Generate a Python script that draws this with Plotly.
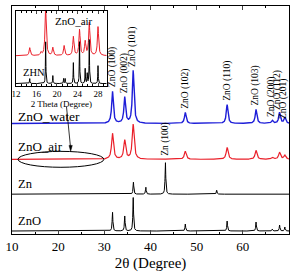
import numpy as np
import plotly.graph_objects as go

# ---------------- data ----------------
zno_pos = [31.77, 34.42, 36.25, 47.54, 56.60, 62.86, 66.38, 67.96, 69.10]
zno_hkl = ["ZnO (100)", "ZnO (002)", "ZnO (101)", "ZnO (102)", "ZnO (110)",
           "ZnO (103)", "ZnO (200)", "ZnO (112)", "ZnO (201)"]
water_int = [32, 26, 53, 11, 19, 14, 3, 11, 6]
air_int = [26, 19, 35, 8, 12, 9, 2, 7, 4]
zno_ref_int = [19, 15, 34, 7, 10, 9, 2, 6, 4]

zn_pos = [36.30, 38.99, 43.23, 54.34]
zn_int = [12, 7, 32, 4]

# inset (ZHN region)
zhn_pos = [14.7, 17.8, 19.2, 21.3, 21.6, 23.2, 24.4, 25.5, 25.9, 26.3, 28.0]
zhn_int = [5, 42, 8, 5, 5, 21, 42, 15, 10, 44, 18]
air_in_pos = [14.7, 16.9, 17.8, 19.2, 21.4, 23.2, 24.4, 25.5, 26.3, 28.0]
air_in_int = [8, 3, 50, 8, 10, 19, 26, 14, 33, 29]

main_ticks = [10, 20, 30, 40, 50, 60, 70]
inset_ticks = [12, 16, 20, 24, 28]

# ---------------- rendering helpers ----------------
BLUE = "#1e1ed8"
RED = "#ea1f29"
FONT = "Liberation Serif"

x_main = np.arange(10, 70.001, 0.02)
x_in = np.arange(12, 29.7, 0.02)


def profile(x, pos, inten, w):
    y = np.zeros_like(x)
    for p, h in zip(pos, inten):
        y += h / (1 + ((x - p) / w) ** 2)
    return y


off_water, off_air, off_zn, off_zno = 111, 75, 40, 3
off_zhn, off_air_in = 2, 30

fig = go.Figure()
fig.add_trace(go.Scatter(x=x_main, y=off_water + profile(x_main, zno_pos, water_int, 0.22),
                         mode="lines", line=dict(color=BLUE, width=1.4), showlegend=False))
fig.add_trace(go.Scatter(x=x_main, y=off_air + profile(x_main, zno_pos, air_int, 0.25),
                         mode="lines", line=dict(color=RED, width=1.2), showlegend=False))
fig.add_trace(go.Scatter(x=x_main, y=off_zn + profile(x_main, zn_pos, zn_int, 0.09),
                         mode="lines", line=dict(color="black", width=1), showlegend=False))
fig.add_trace(go.Scatter(x=x_main, y=off_zno + profile(x_main, zno_pos, zno_ref_int, 0.09),
                         mode="lines", line=dict(color="black", width=1), showlegend=False))

fig.add_trace(go.Scatter(x=x_in, y=off_air_in + profile(x_in, air_in_pos, air_in_int, 0.14),
                         mode="lines", line=dict(color=RED, width=1), showlegend=False,
                         xaxis="x2", yaxis="y2"))
fig.add_trace(go.Scatter(x=x_in, y=off_zhn + profile(x_in, zhn_pos, zhn_int, 0.05),
                         mode="lines", line=dict(color="black", width=1), showlegend=False,
                         xaxis="x2", yaxis="y2"))

ann = []
# hkl labels above blue peaks
label_x = [31.77, 34.42, 36.25, 47.54, 56.60, 62.86, 66.2, 67.5, 68.8]
label_y = [off_water + h + 2 for h in water_int]
label_y[6] = 116
label_y[7] = 123
label_y[8] = 114
for t, xx, yy in zip(zno_hkl, label_x, label_y):
    ann.append(dict(x=xx, y=yy, text=t, textangle=-90, showarrow=False,
                    xanchor="center", yanchor="bottom",
                    font=dict(family=FONT, size=9.5, color="black")))
ann.append(dict(x=43.23, y=off_zn + 32 + 5, text="Zn (100)", textangle=-90, showarrow=False,
                xanchor="center", yanchor="bottom", font=dict(family=FONT, size=9.5, color="black")))

for t, yy, fs in [("ZnO_water", 118, 13.5), ("ZnO_air", 88, 13), ("Zn", 50, 12.5), ("ZnO", 13, 12.5)]:
    ann.append(dict(x=10.8, y=yy, text=t, showarrow=False, xanchor="left", yanchor="middle",
                    font=dict(family=FONT, size=fs, color="black")))

# inset labels
ann.append(dict(x=19.2, y=65, xref="x2", yref="y2", text="ZnO_air", showarrow=False,
                xanchor="left", yanchor="middle", font=dict(family=FONT, size=11, color="black")))
ann.append(dict(x=13.0, y=13, xref="x2", yref="y2", text="ZHN", showarrow=False,
                xanchor="left", yanchor="middle", font=dict(family=FONT, size=10.5, color="black")))

shapes = [
    # ellipse around the low-angle region of ZnO_air
    dict(type="circle", xref="x", yref="y", x0=11.3, x1=29.9, y0=67, y1=83,
         line=dict(color="black", width=1)),
    # pointer line from inset to ellipse
    dict(type="line", xref="x", yref="y", x0=21.8, y0=128, x1=22.7, y1=86,
         line=dict(color="black", width=0.8)),
    # arrow head
    dict(type="path", xref="x", yref="y", path="M 22.7 83 L 22.35 89 L 23.05 89 Z",
         fillcolor="black", line=dict(color="black", width=0.5)),
]

fig.update_layout(
    width=295, height=275,
    margin=dict(l=6, r=5, t=5, b=41),
    paper_bgcolor="white", plot_bgcolor="white",
    font=dict(family=FONT, color="black"),
    annotations=ann,
    shapes=shapes,
    xaxis=dict(range=[10, 70], tickvals=main_ticks, ticks="inside", ticklen=4,
               minor=dict(ticks="inside", ticklen=2, dtick=5, tickcolor="black"),
               showline=True, linecolor="black", linewidth=1, mirror="ticks",
               showgrid=False, zeroline=False,
               tickfont=dict(family=FONT, size=13, color="black"),
               title=dict(text="2θ (Degree)", font=dict(family=FONT, size=15, color="black"),
                          standoff=4)),
    yaxis=dict(range=[0, 229], showticklabels=False, ticks="", showgrid=False, zeroline=False,
               showline=True, linecolor="black", linewidth=1, mirror=True),
    xaxis2=dict(domain=[0.014, 0.342], anchor="y2", range=[12, 29.7], tickvals=inset_ticks,
                ticks="inside", ticklen=3,
                minor=dict(ticks="inside", ticklen=2, dtick=1, tickcolor="black"),
                showline=True, linecolor="black", linewidth=1, mirror="ticks",
                showgrid=False, zeroline=False,
                tickfont=dict(family=FONT, size=9, color="black"),
                title=dict(text="2 Theta (Degree)", font=dict(family=FONT, size=9, color="black"),
                           standoff=0)),
    yaxis2=dict(domain=[0.651, 0.978], anchor="x2", range=[0, 75], showticklabels=False,
                ticks="", showgrid=False, zeroline=False,
                showline=True, linecolor="black", linewidth=1, mirror=True),
)

fig.write_html("out.html")
